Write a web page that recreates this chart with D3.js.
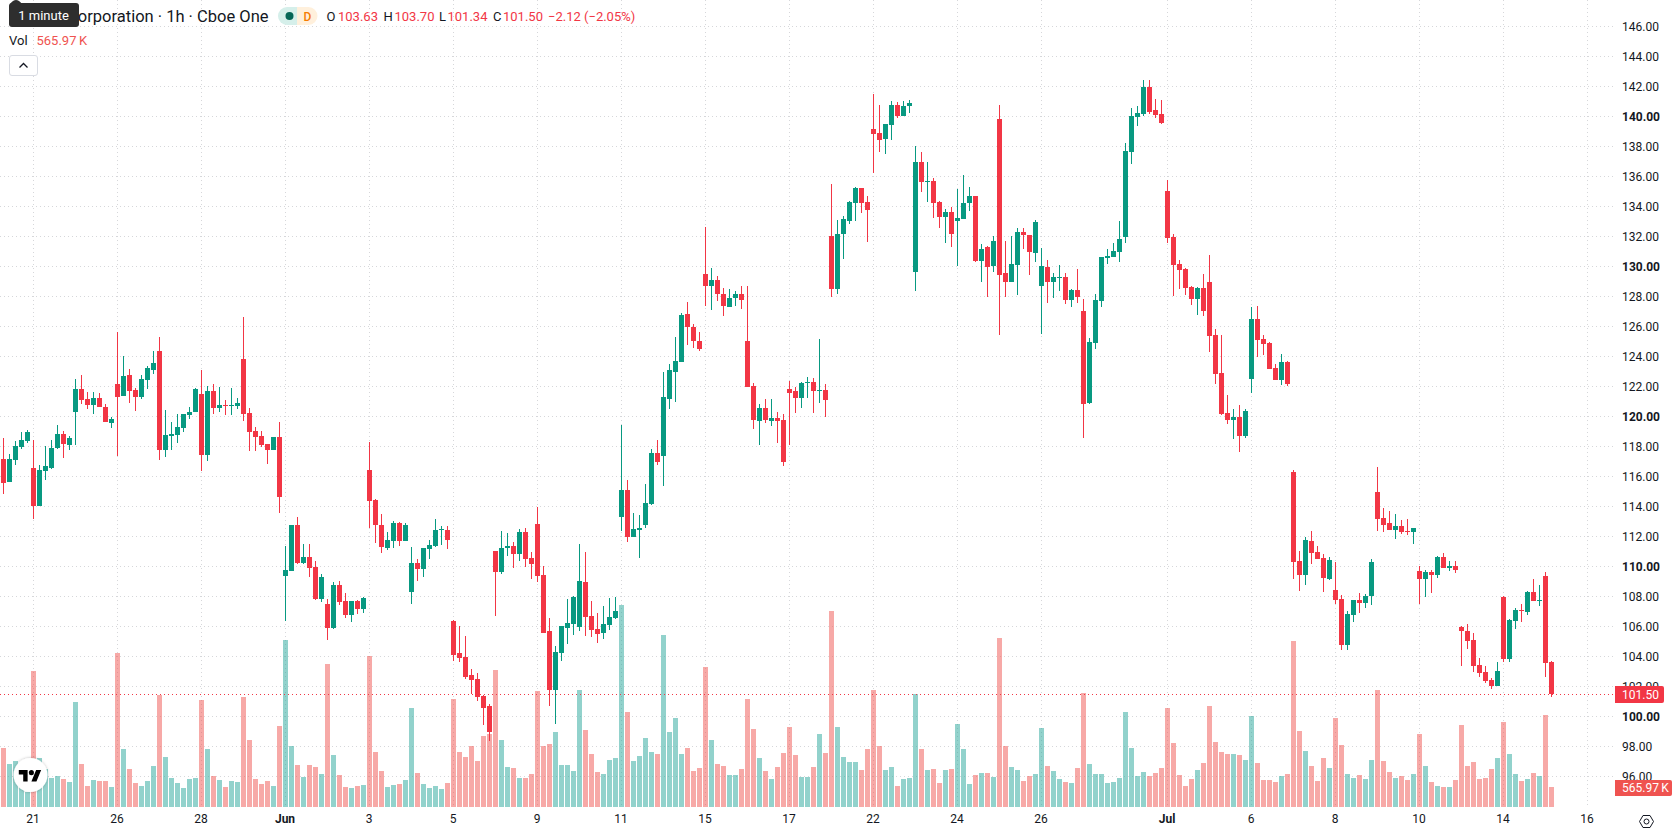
<!DOCTYPE html>
<html>
<head>
<meta charset="utf-8">
<title>Corporation · 1h · Cboe One</title>
<script src="https://cdn.jsdelivr.net/npm/d3@7"></script>
<style>
  html, body { margin: 0; padding: 0; background: #fff; overflow: hidden; }
  svg { display: block; font-family: Roboto, "Noto Sans", sans-serif; }
</style>
</head>
<body>
<svg id="chart" width="1678" height="835"></svg>
<script>
// Hourly OHLC prices, oldest first
const opens = [
117.18,115.65,117.11,117.98,118.38,116.58,114.05,116.38,116.58,117.91,
118.85,118.11,120.31,121.85,121.18,120.78,121.25,120.65,119.58,122.18,
121.38,122.78,121.78,121.31,122.45,123.11,124.38,117.78,118.71,118.78,
119.25,120.11,120.31,121.51,117.45,121.71,120.58,120.78,120.72,120.71,
123.85,120.25,119.05,118.71,118.18,117.78,118.65,109.38,109.71,112.78,
110.25,110.65,109.98,107.85,107.51,105.91,108.78,107.71,106.78,107.71,
107.18,116.45,114.45,112.78,111.25,111.71,112.91,111.71,108.31,110.25,
109.85,111.18,111.36,112.44,112.44,106.38,104.25,103.97,102.78,102.51,
101.38,100.72,111.04,109.64,111.24,111.36,110.83,112.30,110.56,112.83,
109.43,105.72,101.77,104.25,105.90,106.18,105.97,108.97,106.70,105.83,
105.58,106.11,106.57,113.31,115.10,111.98,112.44,112.76,114.16,117.55,
117.37,121.15,123.01,123.63,126.82,125.95,125.03,129.48,128.68,129.09,
128.15,127.28,127.94,128.15,125.03,122.02,119.69,120.56,119.69,119.89,
119.75,121.82,121.68,121.22,122.23,122.30,121.68,121.75,132.04,128.51,
132.17,133.04,134.24,135.24,134.31,139.17,138.91,138.51,139.44,140.77,
140.04,140.71,129.64,136.97,135.64,135.71,134.31,133.31,133.64,133.04,
133.17,134.24,134.71,130.37,131.31,130.04,139.84,129.57,128.97,130.11,
132.31,132.11,130.91,128.71,129.97,128.97,129.24,129.31,127.77,128.44,
127.04,120.91,124.91,127.71,130.57,130.64,130.97,131.97,137.64,139.97,
140.17,141.97,140.44,140.17,135.04,131.97,130.17,129.84,128.64,127.84,
128.57,128.97,125.44,122.91,120.24,119.78,119.98,118.71,122.51,126.51,
125.18,124.91,123.24,122.44,123.64,116.31,110.38,109.44,111.71,110.98,
110.58,109.18,108.44,107.84,104.78,106.78,107.78,107.58,108.04,114.98,
113.24,112.91,112.44,112.71,112.38,112.31,109.71,109.18,109.64,109.44,
110.64,109.91,110.04,105.98,105.71,105.11,103.44,102.98,102.44,102.04,
107.98,103.84,106.38,107.11,106.98,108.31,107.71,109.38,103.63];

const closes = [
115.58,117.18,118.05,118.45,118.98,114.05,116.45,116.71,117.91,118.85,
118.18,118.58,121.85,121.11,120.78,121.25,120.65,119.65,119.85,121.31,
122.71,121.71,121.31,122.51,123.25,123.58,117.78,118.78,118.85,119.31,
120.18,120.31,121.85,117.45,121.71,120.58,120.78,120.72,120.78,120.91,
120.18,118.98,118.65,118.11,117.78,118.65,114.65,109.78,112.78,110.25,
110.65,109.91,107.85,109.31,105.91,108.78,107.65,106.78,107.71,107.18,
107.91,114.38,112.78,111.31,111.78,112.91,111.71,112.78,110.25,109.85,
111.24,111.43,112.44,112.51,111.77,104.11,103.91,102.64,102.44,101.31,
100.58,98.97,109.64,111.24,111.36,110.83,112.30,110.51,110.17,109.36,
105.58,101.77,104.32,106.04,106.24,107.96,109.04,106.63,105.76,105.51,
106.18,106.63,107.05,115.10,111.98,112.51,112.57,114.23,117.55,116.96,
121.29,123.08,123.74,126.75,125.95,125.03,124.48,128.68,129.09,128.15,
127.35,127.94,128.15,127.76,121.96,119.75,120.56,119.75,119.89,119.69,
116.96,121.57,121.22,122.23,122.30,121.68,121.75,121.08,128.51,132.17,
133.17,134.31,135.24,134.24,133.77,138.84,138.44,139.51,140.77,140.04,
140.71,140.91,136.97,135.64,135.71,134.24,133.31,133.64,132.17,133.24,
134.24,134.71,130.37,131.17,129.97,131.71,129.44,128.97,130.17,132.31,
132.11,130.97,132.97,130.04,128.97,129.31,129.31,127.77,128.44,127.97,
120.84,124.97,127.77,130.64,130.71,131.04,131.84,137.71,140.04,140.24,
141.97,140.31,140.11,139.57,131.91,130.11,129.77,128.57,127.84,128.57,
127.04,125.37,122.84,120.18,119.78,119.98,118.71,120.38,126.51,125.11,
124.84,123.18,122.44,123.64,122.18,110.31,109.44,111.78,110.91,110.51,
109.24,110.44,107.78,104.78,106.84,107.78,107.58,108.04,110.31,113.18,
112.78,112.44,112.71,112.31,112.31,112.58,109.18,109.64,109.44,110.64,
109.91,110.04,109.78,105.71,105.04,103.38,102.91,102.38,102.04,103.04,
103.84,106.44,107.11,107.04,108.31,107.71,107.78,103.58,101.50];

const highs = [
118.58,117.51,118.38,118.98,119.11,118.45,116.78,118.05,118.45,119.45,
119.05,118.71,122.51,122.78,121.65,121.65,121.58,120.85,119.98,125.65,
124.05,123.18,121.91,122.78,123.38,124.38,125.31,120.45,119.65,120.18,
120.18,120.65,121.91,123.11,122.05,122.18,121.98,121.11,121.91,121.25,
126.65,120.58,119.31,119.05,118.18,118.65,119.65,111.38,112.78,113.31,
111.51,111.51,110.38,109.51,107.85,108.98,109.05,108.25,107.71,107.78,
107.98,118.31,114.51,113.51,112.31,113.05,112.98,112.91,111.31,110.51,
111.24,111.77,113.17,112.69,112.69,106.47,106.02,105.37,103.17,102.92,
101.47,100.85,111.04,112.35,112.23,111.63,112.51,112.57,110.97,114.00,
110.03,106.61,104.71,106.04,107.83,108.03,111.50,110.97,107.71,106.91,
107.37,107.90,107.96,119.43,115.76,113.56,113.42,115.49,117.83,118.42,
122.96,123.49,125.28,126.89,127.62,126.15,125.63,132.62,129.89,129.41,
128.61,128.49,128.36,128.74,128.74,122.23,120.83,121.15,121.15,120.28,
120.17,122.41,121.96,122.30,122.62,122.55,125.21,122.16,135.51,133.11,
133.37,134.37,135.31,135.24,134.71,141.51,140.77,139.51,141.04,140.97,
141.04,141.11,138.04,137.64,136.97,135.91,134.37,133.84,133.97,135.17,
136.11,135.31,134.71,131.51,131.37,132.04,140.77,131.71,132.04,132.57,
132.57,132.11,133.11,131.24,130.44,129.57,130.11,129.57,128.51,129.84,
127.84,125.24,128.17,130.64,131.17,131.57,133.04,138.24,140.57,140.71,
142.42,142.42,141.17,141.11,135.77,132.17,130.44,129.91,128.71,128.64,
129.51,130.77,125.84,125.44,121.44,120.51,120.78,120.51,127.31,127.38,
125.44,124.98,123.51,124.18,123.71,116.44,111.04,111.98,112.38,111.38,
110.84,110.64,110.31,108.11,107.04,107.78,108.24,108.18,110.51,116.64,
113.91,113.71,113.51,113.11,113.18,112.58,110.04,109.78,109.78,110.71,
110.91,110.38,110.38,106.04,106.18,105.58,103.91,103.38,102.58,103.64,
108.04,106.51,107.24,107.51,108.38,109.18,108.78,109.64,103.70];

const lows = [
114.85,115.65,116.78,117.85,118.25,113.18,114.05,115.78,116.51,117.85,
117.25,117.78,118.11,120.85,120.51,120.18,120.65,119.65,119.25,117.38,
121.38,120.91,120.38,121.18,121.85,122.85,117.11,117.31,117.78,118.25,
118.98,119.85,120.31,116.38,117.05,120.18,120.31,120.11,120.11,120.51,
119.71,117.71,117.71,117.98,116.85,117.78,113.58,106.38,109.71,110.18,
110.18,109.31,107.78,107.65,105.11,105.85,107.45,106.58,106.31,106.85,
106.91,112.58,111.58,110.91,111.11,111.25,111.38,111.71,107.51,109.05,
109.29,110.51,111.29,111.43,111.18,103.72,103.65,102.51,101.52,101.04,
99.46,98.38,106.73,109.50,110.69,109.91,110.37,109.98,109.16,108.97,
105.58,100.72,99.50,103.72,104.85,105.44,105.72,105.37,105.30,104.91,
105.17,105.76,106.50,112.37,111.63,111.98,110.56,112.57,114.09,116.77,
115.37,120.49,120.95,123.63,124.75,124.55,124.36,127.35,127.14,127.69,
126.68,127.28,127.35,127.21,121.96,119.16,118.10,119.55,119.36,118.22,
116.70,118.10,120.24,120.56,121.22,120.24,120.88,119.96,127.97,128.17,
130.51,132.84,133.04,133.57,131.64,136.24,137.64,137.51,138.44,139.91,
140.04,140.24,128.37,134.97,134.31,133.24,132.57,131.57,131.31,130.04,
133.17,133.71,130.31,128.97,127.97,129.64,125.44,127.97,128.97,128.11,
131.17,129.44,130.31,125.51,127.57,127.91,128.37,127.51,127.31,127.57,
118.57,120.84,124.51,127.31,130.17,130.64,130.31,131.57,136.84,139.37,
140.04,140.17,139.91,139.51,131.57,128.04,128.51,128.11,127.44,126.77,
126.71,124.31,122.17,120.11,119.51,118.51,117.64,118.58,121.58,123.98,
124.11,123.18,122.44,122.11,122.04,109.18,108.38,108.78,110.18,110.51,
108.31,109.11,107.51,104.44,104.44,106.31,106.91,107.24,107.44,112.38,
112.31,112.44,111.84,112.18,112.11,111.51,107.51,107.98,108.24,109.24,
109.91,109.71,109.58,103.38,104.51,102.98,102.64,102.24,101.84,102.04,
103.64,103.64,105.84,106.31,106.78,107.71,107.38,102.64,101.34];

// Traded volume per bar, in thousands of shares
const volumes = [
1670,1217,1302,821,425,3849,1387,1075,821,877,
792,708,2972,1217,594,764,736,736,566,4358,
1641,1075,679,594,736,1160,3170,1415,821,679,
538,792,821,3028,1641,877,764,566,736,708,
3113,1896,792,651,736,594,2292,4726,1726,1189,
849,1189,1132,934,4047,1472,906,566,538,594,
623,4273,1557,1019,566,623,651,764,2802,962,
651,538,594,509,679,3056,1557,1415,1726,1302,
2009,2066,3877,1896,1132,1104,821,821,934,3283,
1726,1783,2123,1189,1189,1019,3311,2179,1500,991,
934,1330,1387,5717,2689,1302,1443,1953,1557,1500,
4868,2123,2519,1500,1670,1019,1104,3962,1896,1217,
1160,906,906,1075,3056,2207,1387,1019,792,1132,
1528,2264,1472,849,849,1132,2066,1528,5547,2264,
1415,1274,1274,1047,1641,3311,1726,1047,1132,594,
792,821,3198,1641,1047,1075,679,1047,1075,2349,
1641,651,906,962,962,849,4783,1726,1132,1047,
736,877,934,2236,1160,1019,792,708,679,1104,
3226,1217,934,934,679,708,821,2689,1670,877,
991,877,962,1104,2802,1811,906,594,792,1047,
1245,2858,1840,1557,1500,1500,1472,1330,2575,1245,
764,764,708,877,934,4698,2151,1585,1160,736,
1387,1104,2519,1755,934,821,906,792,1330,3311,
1302,991,821,877,764,934,2066,1160,708,594,
566,566,764,2321,1160,1274,792,821,1075,1387,
2406,1500,934,736,792,962,877,2604,565.97];

// Time axis: bar position of each tick and the label it carries
const timeTickBars = [5,19,33,47,61,75,89,103,117,131,145,159,173,194,208,222,236,250,264];
const timeTickLabels = ["21","26","28","Jun","3","5","9","11","15","17","22","24","26","Jul","6","8","10","14","16"];
const boldTimeLabels = ["Jun","Jul"];

// Price axis ticks
const priceTicks = [96,98,100,102,104,106,108,110,112,114,116,118,120,122,124,126,128,130,132,134,136,138,140,142,144,146];

// Header readout
const titleText = "Corporation · 1h · Cboe One";
const readout = [
  { key: "O", value: "103.63", kx: 326.5, vx: 338 },
  { key: "H", value: "103.70", kx: 383.5, vx: 394.5 },
  { key: "L", value: "101.34", kx: 439, vx: 447.5 },
  { key: "C", value: "101.50", kx: 493, vx: 503 }
];
const changeText = "−2.12 (−2.05%)";
const volumeText = "565.97\u2009K";
const lastPriceText = "101.50";

const UP = "#089981", DOWN = "#f23645";
const VOL_UP = "#26a69a", VOL_DOWN = "#ef5350";
const GRID = "#d6d7da", INK = "#131722";

const PANE_RIGHT = 1615, PANE_BOTTOM = 807;

const svg = d3.select("#chart");

// One pixel of price pane equals 1/15 of a dollar; bars sit 6px apart
const x = d3.scaleLinear().domain([0, 264]).range([3.5, 1587.5]);
const y = d3.scaleLinear().domain([146, 96]).range([26.67, 776.67]);
const yVol = d3.scaleLinear().domain([0, 5660]).range([PANE_BOTTOM, 607]);

const bars = d3.range(opens.length).map(i => ({
  i, o: opens[i], h: highs[i], l: lows[i], c: closes[i], v: volumes[i], up: closes[i] >= opens[i]
}));

// Dotted grid
const grid = svg.append("g").attr("shape-rendering", "crispEdges")
  .attr("stroke", GRID).attr("stroke-dasharray", "1,3");
grid.selectAll("line.h").data(priceTicks).join("line").attr("class", "h")
  .attr("x1", 0).attr("x2", PANE_RIGHT)
  .attr("y1", d => Math.floor(y(d)) + 0.5).attr("y2", d => Math.floor(y(d)) + 0.5);
grid.selectAll("line.v").data(timeTickBars).join("line").attr("class", "v")
  .attr("y1", 0).attr("y2", PANE_BOTTOM)
  .attr("x1", d => Math.floor(x(d)) + 0.5).attr("x2", d => Math.floor(x(d)) + 0.5);

// Volume columns
svg.append("g").attr("shape-rendering", "crispEdges").selectAll("rect").data(bars).join("rect")
  .attr("x", d => Math.floor(x(d.i)) - 2)
  .attr("width", 5)
  .attr("y", d => Math.round(yVol(d.v)))
  .attr("height", d => PANE_BOTTOM - Math.round(yVol(d.v)))
  .attr("fill", d => d.up ? VOL_UP : VOL_DOWN)
  .attr("fill-opacity", 0.5);

// Last price line
svg.append("line")
  .attr("x1", 0).attr("x2", PANE_RIGHT)
  .attr("y1", Math.floor(y(closes[closes.length - 1])) + 0.5)
  .attr("y2", Math.floor(y(closes[closes.length - 1])) + 0.5)
  .attr("stroke", DOWN).attr("stroke-dasharray", "1,3")
  .attr("shape-rendering", "crispEdges");

// Candles: wick then body
const candles = svg.append("g").attr("shape-rendering", "crispEdges");
candles.selectAll("rect.wick").data(bars).join("rect").attr("class", "wick")
  .attr("x", d => Math.floor(x(d.i)))
  .attr("width", 1)
  .attr("y", d => Math.round(y(d.h)))
  .attr("height", d => Math.max(1, Math.round(y(d.l)) - Math.round(y(d.h))))
  .attr("fill", d => d.up ? UP : DOWN);
candles.selectAll("rect.body").data(bars).join("rect").attr("class", "body")
  .attr("x", d => Math.floor(x(d.i)) - 2)
  .attr("width", 5)
  .attr("y", d => Math.round(y(Math.max(d.o, d.c))))
  .attr("height", d => Math.max(1, Math.round(y(Math.min(d.o, d.c))) - Math.round(y(Math.max(d.o, d.c)))))
  .attr("fill", d => d.up ? UP : DOWN);

// Price axis on the right
const priceAxis = svg.append("g").attr("transform", `translate(${PANE_RIGHT},0)`)
  .call(d3.axisRight(y).tickValues(priceTicks).tickSize(0).tickPadding(7).tickFormat(d3.format(".2f")));
priceAxis.select(".domain").remove();
priceAxis.selectAll("text")
  .attr("font-family", "Roboto, sans-serif").attr("font-size", 12).attr("fill", INK)
  .attr("font-weight", d => d % 10 === 0 ? 700 : 400);

// Time axis along the bottom
const labelOf = d3.scaleOrdinal(timeTickBars, timeTickLabels);
const timeAxis = svg.append("g").attr("transform", `translate(0,${PANE_BOTTOM})`)
  .call(d3.axisBottom(x).tickValues(timeTickBars).tickSize(0).tickPadding(7).tickFormat(d => labelOf(d)));
timeAxis.select(".domain").remove();
timeAxis.selectAll("text")
  .attr("font-family", "Roboto, sans-serif").attr("font-size", 12).attr("fill", INK)
  .attr("dx", -1)
  .attr("font-weight", d => boldTimeLabels.includes(labelOf(d)) ? 700 : 400);

// Axis value tags
function tag(yTop, h, w, fill, label) {
  const g = svg.append("g");
  g.append("path")
    .attr("d", `M${PANE_RIGHT},${yTop}H${PANE_RIGHT + w - 2}a2,2 0 0 1 2,2V${yTop + h - 2}a2,2 0 0 1 -2,2H${PANE_RIGHT}Z`)
    .attr("fill", fill);
  g.append("text").attr("x", PANE_RIGHT + 7).attr("y", yTop + h / 2 + 4.2)
    .attr("font-size", 12).attr("fill", "#fff").text(label);
}
tag(686, 17, 49, DOWN, lastPriceText);
tag(780, 16, 57, VOL_DOWN, volumeText);

// Settings glyph in the axis corner
const gear = svg.append("g").attr("transform", "translate(1646.5,821.5)")
  .attr("fill", "none").attr("stroke", INK).attr("stroke-width", 1);
gear.append("path").attr("d", "M-7,0L-3.5,-6H3.5L7,0L3.5,6H-3.5Z");
gear.append("circle").attr("r", 2.5);

// Header: symbol title
svg.append("text").attr("x", 268.5).attr("y", 22).attr("text-anchor", "end")
  .attr("font-size", 16.5).attr("fill", INK).text(titleText);

// Exchange status pill
svg.append("path").attr("d", "M297,7H287a9,9 0 0 0 0,18H297Z").attr("fill", "#d5efea");
svg.append("path").attr("d", "M297,7H308.5a9,9 0 0 1 0,18H297Z").attr("fill", "#fff0dc");
svg.append("circle").attr("cx", 289.5).attr("cy", 16).attr("r", 4).attr("fill", "#056656");
svg.append("text").attr("x", 307.5).attr("y", 20.5).attr("text-anchor", "middle")
  .attr("font-size", 12).attr("font-weight", 500).attr("fill", "#f57c00").text("D");

// OHLC readout
const ohlc = svg.append("g").attr("font-size", 13);
readout.forEach(r => {
  ohlc.append("text").attr("x", r.kx).attr("y", 21).attr("fill", INK).text(r.key);
  ohlc.append("text").attr("x", r.vx).attr("y", 21).attr("fill", DOWN).text(r.value);
});
ohlc.append("text").attr("x", 548).attr("y", 21).attr("fill", DOWN).text(changeText);

// Volume legend row
svg.append("text").attr("x", 9).attr("y", 45).attr("font-size", 13).attr("fill", INK).text("Vol");
svg.append("text").attr("x", 36.5).attr("y", 45).attr("font-size", 13).attr("fill", VOL_DOWN).text(volumeText);

// Collapse button
svg.append("rect").attr("x", 9.5).attr("y", 55.5).attr("width", 28).attr("height", 20).attr("rx", 2.5)
  .attr("fill", "#fff").attr("stroke", "#d9dce3");
svg.append("path").attr("d", "M19.5,67.5L23.5,63.5L27.5,67.5").attr("fill", "none")
  .attr("stroke", INK).attr("stroke-width", 1.3);

// Interval tooltip sitting over the title
svg.append("path").attr("d", "M10,4Q13,0 16,0Q19,0 22,4Z").attr("fill", "#2e2e2e");
svg.append("rect").attr("x", 9).attr("y", 3).attr("width", 70).attr("height", 24).attr("rx", 3).attr("fill", "#2e2e2e");
svg.append("text").attr("x", 43.5).attr("y", 19.5).attr("text-anchor", "middle")
  .attr("font-size", 13).attr("fill", "#fff").text("1 minute");

// Watermark badge
const defs = svg.append("defs");
const shadow = defs.append("filter").attr("id", "badgeShadow")
  .attr("x", "-30%").attr("y", "-30%").attr("width", "160%").attr("height", "160%");
shadow.append("feDropShadow").attr("dx", 0).attr("dy", 0).attr("stdDeviation", 1.5)
  .attr("flood-color", "#000").attr("flood-opacity", 0.28);
svg.append("circle").attr("cx", 30.5).attr("cy", 775).attr("r", 17)
  .attr("fill", "#fff").attr("filter", "url(#badgeShadow)");
const mark = svg.append("g").attr("transform", "translate(18.8,767.6) scale(0.63)").attr("fill", "#000");
mark.append("path").attr("d", "M14 22H7V11H0V4h14v18zM28 22h-8l7.5-18h8L28 22z");
mark.append("circle").attr("cx", 20).attr("cy", 8).attr("r", 4);
</script>
</body>
</html>
